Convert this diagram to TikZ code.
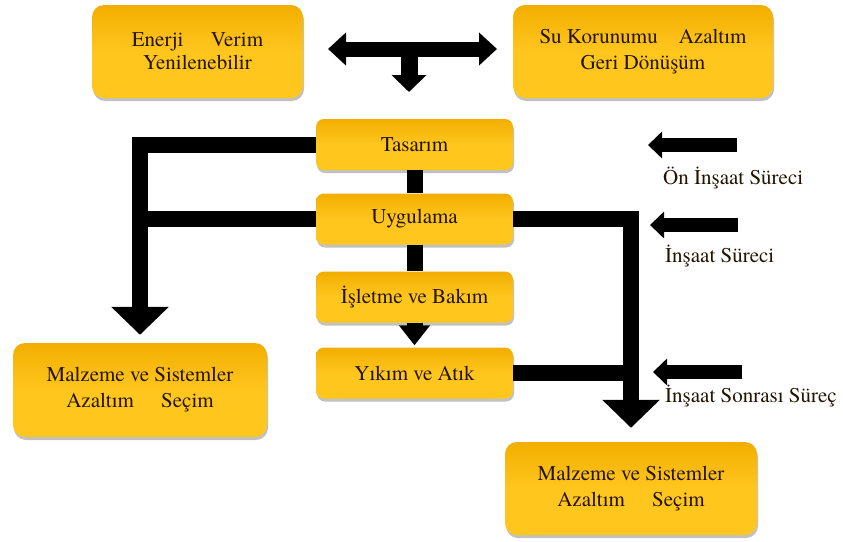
\documentclass[tikz,border=0pt]{standalone}
\usepackage{fontspec}
\setmainfont{texgyretermes-regular.otf}
\newfontfamily\serifx{texgyretermes-regular.otf}
\usetikzlibrary{arrows.meta,shadows}
\definecolor{goldtop}{HTML}{F2AE00}
\definecolor{goldbot}{HTML}{FFC61E}
\definecolor{txt}{HTML}{241400}
\tikzset{
  box/.style={draw=none, rounded corners=12pt, top color=goldtop, bottom color=goldbot,
    middle color=goldbot, shading angle=0,
    drop shadow={shadow xshift=1pt, shadow yshift=-3pt, opacity=0.35, fill=black!70},
    align=center, text=txt, font=\serifx\fontsize{21}{26}\selectfont, inner sep=0pt},
  bigbox/.style={box, minimum height=93pt},
  smallbox/.style={box, rounded corners=8pt, minimum width=197pt, minimum height=51pt},
  bar/.style={line width=16pt, black},
  bigarrow/.style={line width=16pt, black, line join=miter, -{Triangle[width=56pt,length=28pt]}},
  sidearrow/.style={line width=14pt, black, -{Triangle[width=26pt,length=14pt]}},
  sidelabel/.style={anchor=west, text=txt, font=\serifx\fontsize{21}{22}\selectfont, inner sep=0pt},
}
\begin{document}
\begin{tikzpicture}[x=1pt,y=-1pt]
\useasboundingbox (0,0) rectangle (843,541);
% top boxes
\node[bigbox, minimum width=211pt, font=\serifx\fontsize{21}{23}\selectfont] (ev) at (197.5,51.5) {Enerji\hspace{1.3em}Verim\\Yenilenebilir};
\node[bigbox, minimum width=260pt] (su) at (643,51.5) {Su Korunumu\hspace{1em}Azaltım\\Geri Dönüşüm};
% process boxes
\node[smallbox] (t) at (414.5,144.5) {Tasarım};
\node[smallbox] (u) at (414.5,219) {Uygulama};
\node[smallbox] (i) at (414.5,297) {İşletme ve Bakım};
\node[smallbox] (y) at (414.5,373) {Yıkım ve Atık};
% bottom boxes
\node[bigbox, minimum width=254pt, minimum height=94pt] (m1) at (140,390) {Malzeme ve Sistemler\\Azaltım\hspace{1.3em}Seçim};
\node[bigbox, minimum width=252pt] (m2) at (631,488.5) {Malzeme ve Sistemler\\Azaltım\hspace{1.3em}Seçim};
% top double arrow
\coordinate (dl) at (328,49);
\coordinate (dr) at (497,49);
\coordinate (dm) at (409,49);
\coordinate (dd) at (409,92);
\draw[line width=15pt, {Triangle[width=32pt,length=18pt]}-{Triangle[width=32pt,length=18pt]}] (dl) -- (dr);
\draw[line width=17pt, -{Triangle[width=34pt,length=17pt]}] (dm) -- (dd);
% vertical chain
\draw[bar] (t.south) -- (u.north);
\draw[bar] (u.south) -- (i.north);
\draw[line width=16pt, -{Triangle[width=30pt,length=20pt]}] (i.south) -- ([yshift=2pt]y.north);
% left branch
\draw[bigarrow] (t.west) -| ([yshift=8pt]m1.north);
\draw[bar] (u.west) -- (u.west -| m1.north);
% right branch
\draw[bigarrow] (u.east) -| ([yshift=14pt]m2.north);
\draw[bar] (y.east) -- (y.east -| m2.north);
% side arrows
\coordinate (s1) at (737,145); \coordinate (e1) at (648,145);
\coordinate (s2) at (738,225); \coordinate (e2) at (650,225);
\coordinate (s3) at (742,372); \coordinate (e3) at (653,372);
\draw[sidearrow] (s1) -- (e1);
\draw[sidearrow] (s2) -- (e2);
\draw[sidearrow] (s3) -- (e3);
\node[sidelabel] (l1) at (663,178) {Ön İnşaat Süreci};
\node[sidelabel] (l2) at (665,256) {İnşaat Süreci};
\node[sidelabel] (l3) at (665,396) {İnşaat Sonrası Süreç};
\end{tikzpicture}
\end{document}
